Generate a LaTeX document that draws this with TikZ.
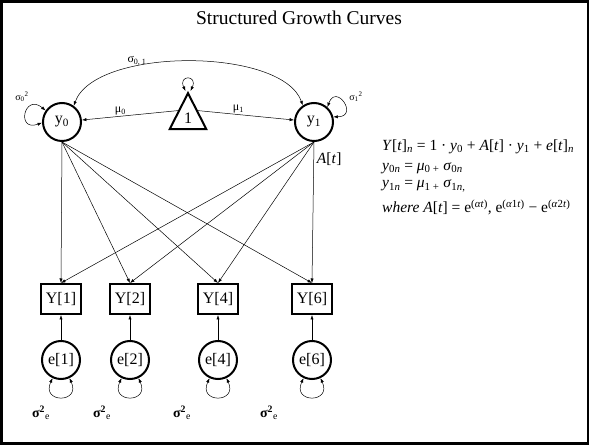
\documentclass[tikz,border=0pt]{standalone}
\usepackage{fontspec}
\setmainfont{Liberation Serif}
\usetikzlibrary{arrows.meta,shapes.geometric}

\begin{document}
\begin{tikzpicture}[x=1pt,y=1pt,
  latent/.style={circle,draw,line width=2pt,minimum size=38pt,inner sep=0pt,
    font=\fontsize{16}{18}\selectfont},
  manifest/.style={rectangle,draw,line width=2pt,minimum width=40pt,minimum height=30pt,
    inner sep=0pt,font=\fontsize{16}{18}\selectfont},
  const/.style={isosceles triangle,shape border rotate=90,isosceles triangle apex angle=54,
    draw,line width=2pt,minimum height=36pt,inner sep=1pt,font=\fontsize{16}{18}\selectfont},
  load/.style={-{Latex[length=4.5pt,width=3.2pt]},line width=0.5pt},
  dbl/.style={{Latex[length=4.5pt,width=3.2pt]}-{Latex[length=4.5pt,width=3.2pt]},line width=0.5pt},
  lbl/.style={inner sep=1pt,font=\fontsize{12}{14}\selectfont},
  eqn/.style={anchor=base west,inner sep=0pt,font=\fontsize{15.5}{18}\selectfont}]
  \useasboundingbox (0,0) rectangle (590,-446);
  \draw[line width=2.6pt] (1.5,-1.5) rectangle (588,-443.5);
  \node[anchor=base,font=\fontsize{19.5}{22}\selectfont] (title) at (299,-24.3) {Structured Growth Curves};

  \node[latent] (y0) at (62,-122) {y\textsubscript{0}};
  \node[latent] (y1) at (314,-122) {y\textsubscript{1}};
  \node[const,anchor=apex] (one) at (188,-91) {1};

  \draw[load] (one.left side) -- node[lbl,above,pos=0.6] {μ\textsubscript{0}} (y0);
  \draw[load] (one.right side) -- node[lbl,above,pos=0.42] {μ\textsubscript{1}} (y1);
  \draw[dbl] (y0.54) .. controls (95,-47) and (282,-47) .. node[lbl,above,pos=0.33] (s01) {σ\textsubscript{0, 1}} (y1.124);
  \draw[dbl] (y0.145) .. controls +(140:28) and +(200:28) .. (y0.182);
  \draw[dbl] (y1.48) .. controls +(70:26) and +(0:26) .. (y1.15);
  \draw[dbl] ([xshift=-2.5pt]one.apex) .. controls +(115:18) and +(65:18) .. ([xshift=2.5pt]one.apex);
  \node[lbl,font=\fontsize{10}{12}\selectfont] (s00) at (22,-97) {σ\textsubscript{0}\textsuperscript{2}};
  \node[lbl,font=\fontsize{10}{12}\selectfont] (s11) at (356,-97) {σ\textsubscript{1}\textsuperscript{2}};

  \foreach \t/\x/\s in {1/61/41,2/130/102,4/218/182,6/312/269} {
    \node[manifest] (Y\t) at (\x,-299) {Y[\t]};
    \node[latent] (e\t) at (\x,-360) {e[\t]};
    \draw[load] (e\t) -- (Y\t);
    \draw[load] (y0.south) -- (Y\t.north);
    \draw[load] (y1.south) -- (Y\t.north);
    \draw[dbl] (e\t.245) .. controls +(245:28) and +(295:28) .. (e\t.295);
    \node[lbl,font=\fontsize{14}{16}\selectfont] (se\t) at (\s,-413) {\textbf{σ\textsuperscript{2}}\textsubscript{e}};
  }
  \path (y1.south) -- node[pos=0.12,right,inner sep=3pt,font=\fontsize{15.5}{18}\selectfont] (At) {\textit{A}[\textit{t}]} (Y6.north);

  \node[eqn] (eqa) at (382,-150.7) {\textit{Y}[\textit{t}]\textsubscript{\textit{n}} = 1 · \textit{y}\textsubscript{0} + \textit{A}[\textit{t}] · \textit{y}\textsubscript{1} + \textit{e}[\textit{t}]\textsubscript{\textit{n}}};
  \node[eqn] (eqb) at (382,-170.5) {\textit{y}\textsubscript{0\textit{n}} = \textit{μ}\textsubscript{0 +} \textit{σ}\textsubscript{0\textit{n}}};
  \node[eqn] (eqc) at (382,-188) {\textit{y}\textsubscript{1\textit{n}} = \textit{μ}\textsubscript{1 +} \textit{σ}\textsubscript{1\textit{n},}};
  \node[eqn] (eqd) at (382,-212.7) {\textit{where A}[\textit{t}] = e\textsuperscript{(\textit{αt})}, e\textsuperscript{(\textit{α}1\textit{t})} − e\textsuperscript{(\textit{α}2\textit{t})}};
\end{tikzpicture}
\end{document}
